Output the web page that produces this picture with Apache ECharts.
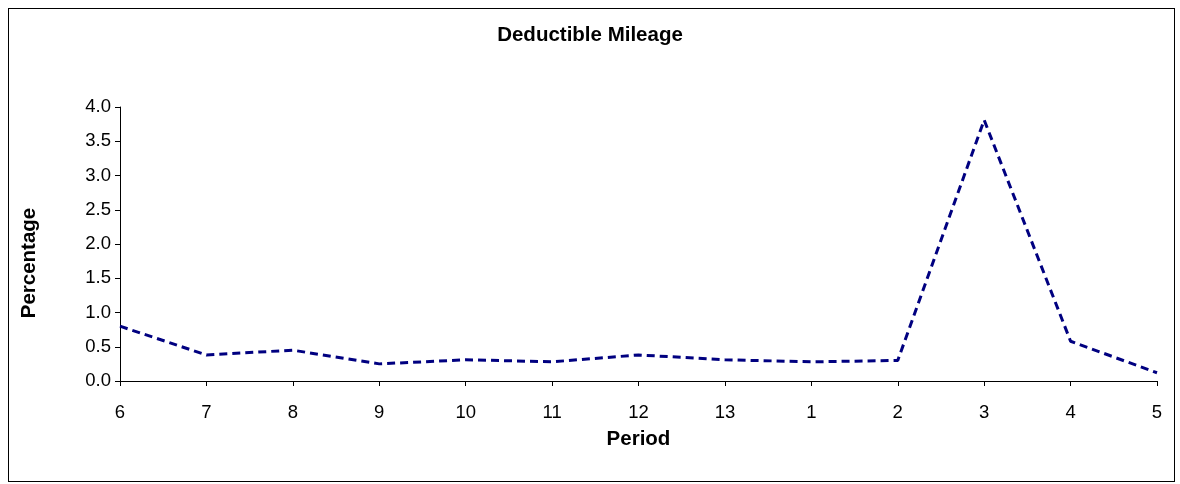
<!DOCTYPE html>
<html>
<head>
<meta charset="utf-8">
<script src="https://cdn.jsdelivr.net/npm/echarts@6/dist/echarts.min.js"></script>
<style>
  body { margin: 0; background: #fff; }
  #frame { position: absolute; left: 8px; top: 8px; width: 1167px; height: 474px; border: 1px solid #000; box-sizing: border-box; }
  #chart { width: 1180px; height: 484px; }
</style>
</head>
<body>
<div id="frame"></div>
<div id="chart"></div>
<script>
const periods = ['6', '7', '8', '9', '10', '11', '12', '13', '1', '2', '3', '4', '5']
const percentage = [0.80, 0.38, 0.45, 0.25, 0.31, 0.28, 0.38, 0.31, 0.28, 0.30, 3.81, 0.58, 0.12]

const font = { fontFamily: 'Liberation Sans', fontSize: 18.5, color: '#000' }
const bold = { fontFamily: 'Liberation Sans', fontSize: 20.5, fontWeight: 'bold', color: '#000' }
const myChart = echarts.init(document.getElementById('chart'))
myChart.setOption({
  animation: false,
  title: {
    text: 'Deductible Mileage',
    left: 'center',
    top: 20,
    textStyle: bold
  },
  graphic: [{
    type: 'text',
    x: 19, y: 263,
    rotation: Math.PI / 2,
    style: { text: 'Percentage', ...bold, fill: '#000', align: 'center', verticalAlign: 'top' }
  }],
  grid: { left: 120, right: 23, top: 107, bottom: 103 },
  xAxis: {
    type: 'category',
    data: periods,
    boundaryGap: false,
    name: 'Period',
    nameLocation: 'middle',
    nameGap: 48,
    nameTextStyle: bold,
    axisLine: { lineStyle: { color: '#000' } },
    axisTick: { length: 5, lineStyle: { color: '#000' } },
    axisLabel: { ...font, margin: 22 }
  },
  yAxis: {
    type: 'value',
    min: 0,
    max: 4,
    interval: 0.5,
    axisLine: { show: true, lineStyle: { color: '#000' } },
    axisTick: { show: true, length: 5, lineStyle: { color: '#000' } },
    splitLine: { show: false },
    axisLabel: { ...font, margin: 9, formatter: v => v.toFixed(1) }
  },
  series: [{
    type: 'line',
    data: percentage,
    symbol: 'none',
    lineStyle: { color: '#000080', width: 3, type: [8, 5] }
  }]
})
</script>
</body>
</html>
